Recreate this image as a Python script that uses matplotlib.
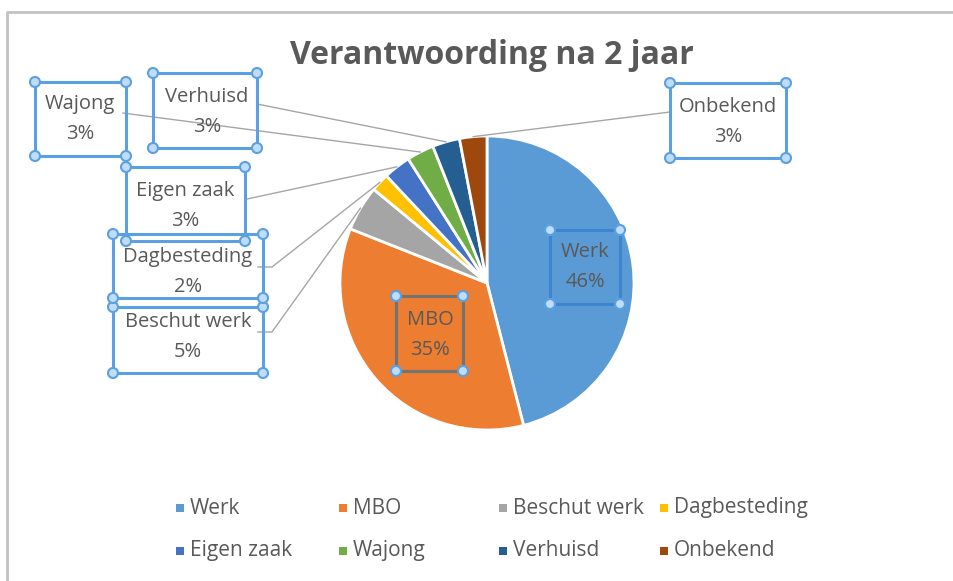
import numpy as np
import matplotlib.pyplot as plt
from matplotlib.patches import Rectangle, Circle

plt.rcParams['font.family'] = ['Open Sans', 'DejaVu Sans']

# data
labels = ["Werk", "MBO", "Beschut werk", "Dagbesteding",
          "Eigen zaak", "Wajong", "Verhuisd", "Onbekend"]
values = [46, 35, 5, 2, 3, 3, 3, 3]
pct_labels = ["46%", "35%", "5%", "2%", "3%", "3%", "3%", "3%"]
colors = ["#5B9BD5", "#ED7D31", "#A5A5A5", "#FFC000",
          "#4472C4", "#70AD47", "#255E91", "#9E480E"]

W, H = 954, 581
txt = "#595959"
line_col = "#A6A6A6"
sel = "#5BA0E0"
fs = 14.5

fig = plt.figure(figsize=(W / 100, H / 100), dpi=100)
ax = fig.add_axes([0, 0, 1, 1])

cx, cy, r = 487, 283, 147
# y axis is inverted below (pixel coords), so counterclock=True draws clockwise on screen
wedges, _ = ax.pie(values, colors=colors, startangle=-90, counterclock=True,
                   center=(cx, cy), radius=r,
                   wedgeprops=dict(edgecolor="white", linewidth=2))
ax.set_xlim(0, W)
ax.set_ylim(H, 0)
ax.set_aspect("equal")
ax.axis("off")

# chart border (left / top only visible in screenshot)
ax.plot([7, 7, W + 20], [H + 20, 12, 12], color="#C3C3C3", lw=2,
        solid_capstyle="butt", clip_on=False)

ax.text(492, 55, "Verantwoording na 2 jaar", ha="center", va="center",
        fontsize=23, fontweight="bold", color=txt)

# label layout: box (x0, y0, x1, y1), text centre, leader points
boxes = {
    "Werk": (550, 230, 620, 304),
    "MBO": (396, 296, 463, 371),
    "Beschut werk": (113, 307, 263, 373),
    "Dagbesteding": (113, 234, 263, 298),
    "Eigen zaak": (126, 167, 245, 241),
    "Wajong": (35, 82, 126, 156),
    "Verhuisd": (153, 73, 257, 148),
    "Onbekend": (670, 83, 786, 158),
}
text_pos = {
    "Werk": (585, 267), "MBO": (430, 335),
    "Beschut werk": (188, 337), "Dagbesteding": (188, 272),
    "Eigen zaak": (185, 206), "Wajong": (80, 119),
    "Verhuisd": (207, 112), "Onbekend": (728, 122),
}
leaders = {
    "Beschut werk": [(258, 332), (272, 332)],
    "Dagbesteding": [(258, 267), (272, 267)],
    "Eigen zaak": [(247, 199)],
    "Wajong": [(123, 113)],
    "Verhuisd": [(257, 104)],
    "Onbekend": [(670, 112)],
}
box_col = {"Werk": "#3D86CF", "MBO": "#737373"}

for w, lab in zip(wedges, labels):
    if lab in leaders:
        mid = np.deg2rad((w.theta1 + w.theta2) / 2)
        end = (cx + r * np.cos(mid), cy + r * np.sin(mid))
        pts = leaders[lab] + [end]
        ax.plot([p[0] for p in pts], [p[1] for p in pts], color=line_col, lw=1, zorder=3)

for lab, pct in zip(labels, pct_labels):
    x0, y0, x1, y1 = boxes[lab]
    ec = box_col.get(lab, sel)
    ax.add_patch(Rectangle((x0, y0), x1 - x0, y1 - y0, fill=False,
                           edgecolor=ec, lw=2.2, zorder=5))
    for hx, hy in [(x0, y0), (x1, y0), (x0, y1), (x1, y1)]:
        ax.add_patch(Circle((hx, hy), 5, facecolor="#BFDDF8", edgecolor=sel,
                            lw=1.5, zorder=6))
    tx, ty = text_pos[lab]
    ax.text(tx, ty - 15, lab, ha="center", va="center", fontsize=fs, color=txt, zorder=7)
    ax.text(tx, ty + 15, pct, ha="center", va="center", fontsize=fs, color=txt, zorder=7)

# legend, laid out like the Excel one
col_x = [180, 343, 503, 664]
row_y = [508, 551]
for i, (lab, c) in enumerate(zip(labels, colors)):
    lx = col_x[i % 4]
    ly = row_y[i // 4]
    ax.add_patch(Rectangle((lx - 4, ly - 4), 8, 8, facecolor=c, edgecolor="none"))
    ax.text(lx + 10, ly, lab, ha="left", va="center", fontsize=15, color=txt)

fig.savefig("out.png", dpi=100)
